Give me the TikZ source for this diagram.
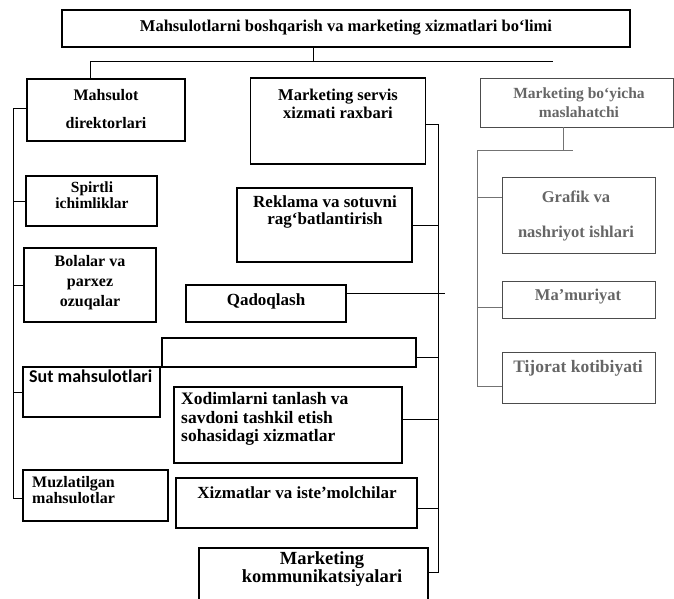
\documentclass[tikz,border=0pt]{standalone}
\usepackage{fontspec}
\setmainfont{Liberation Serif}
\newfontfamily\sutfont{Carlito}
\newcommand{\fsz}[2]{\fontsize{#1}{#2}\selectfont}
\begin{document}
\begin{tikzpicture}[x=1pt,y=-1pt,
  box/.style={draw=black, line width=1.1pt, inner sep=0pt},
  rbox/.style={draw=black!70, line width=0.9pt, inner sep=0pt},
  txt/.style={font=\bfseries, align=center, inner sep=0pt},
  ltxt/.style={txt, align=left, anchor=west},
  gtxt/.style={font=\bfseries, text=black!60, align=center, inner sep=0pt},
  link/.style={line width=0.8pt, draw=black},
  glink/.style={line width=0.8pt, draw=black!55}]
\clip (0,0) rectangle (674,598);
\fill[white] (0,0) rectangle (674,598);

% boxes
\node[box, minimum width=568pt, minimum height=37pt] (top) at (346,28.5) {};
\node[box, minimum width=158pt, minimum height=62pt] (mah) at (106,110) {};
\node[box, minimum width=175pt, minimum height=86pt] (ms) at (338,121) {};
\node[rbox, minimum width=193pt, minimum height=49pt] (mbq) at (576.5,102.5) {};
\node[box, minimum width=131pt, minimum height=50pt] (spi) at (91.5,201) {};
\node[box, minimum width=132pt, minimum height=74pt] (bol) at (90,285) {};
\node[box, minimum width=137pt, minimum height=50pt] (sut) at (91.5,392) {};
\node[box, minimum width=145pt, minimum height=51pt] (muz) at (95.5,495.5) {};
\node[box, minimum width=175pt, minimum height=74pt] (rek) at (324.5,225) {};
\node[box, minimum width=160pt, minimum height=37pt] (qad) at (266,303.5) {};
\node[box, minimum width=254pt, minimum height=29pt] (emp) at (289,352.5) {};
\node[box, minimum width=228pt, minimum height=76pt] (xod) at (288,425) {};
\node[box, minimum width=241pt, minimum height=50pt] (xiz) at (296.5,503) {};
\node[box, minimum width=229pt, minimum height=54pt] (kom) at (313.5,575) {};
\node[rbox, minimum width=153pt, minimum height=76pt] (gra) at (578.5,215) {};
\node[rbox, minimum width=153pt, minimum height=37pt] (mam) at (578.5,299.5) {};
\node[rbox, minimum width=153pt, minimum height=51pt] (tij) at (578.5,377.5) {};

% texts
\node[txt, font=\fsz{16.5}{20}\bfseries] (ttop) at (346,28) {Mahsulotlarni boshqarish va marketing xizmatlari bo‘limi};
\node[txt, font=\fsz{16}{17}\bfseries] (tmah) at (106,109) {Mahsulot\\[11pt]direktorlari};
\node[txt, font=\fsz{16.5}{18}\bfseries] (tms) at (338,104) {Marketing servis\\xizmati raxbari};
\node[gtxt, font=\fsz{15.5}{19}\bfseries] (tmbq) at (579,102.5) {Marketing bo‘yicha\\maslahatchi};
\node[txt, font=\fsz{15.5}{16.5}\bfseries] (tspi) at (92,195) {Spirtli\\ichimliklar};
\node[txt, font=\fsz{16}{20}\bfseries] (tbol) at (90,283) {Bolalar va\\parxez\\ozuqalar};
\node[txt, font=\fsz{17}{16.5}\bfseries] (trek) at (325,212) {Reklama va sotuvni\\rag‘batlantirish};
\node[txt, font=\fsz{17}{20}\bfseries] (tqad) at (266,301) {Qadoqlash};
\node[font=\sutfont\fsz{18}{20}\bfseries, inner sep=0pt, anchor=west] (tsut) at (29,376) {Sut mahsulotlari};
\node[ltxt, font=\fsz{16}{15.5}\bfseries] (tmuz) at (32,490) {Muzlatilgan\\mahsulotlar};
\node[ltxt, font=\fsz{17.5}{18.5}\bfseries] (txod) at (181,419) {Xodimlarni tanlash va\\savdoni tashkil etish\\sohasidagi xizmatlar};
\node[txt, font=\fsz{17}{20}\bfseries] (txiz) at (297,493) {Xizmatlar va iste’molchilar};
\node[txt, font=\fsz{18.5}{18}\bfseries] (tkom) at (322,569) {Marketing\\kommunikatsiyalari};
\node[gtxt, font=\fsz{16.5}{18}\bfseries] (tgra) at (576,215.5) {Grafik va\\[17pt]nashriyot ishlari};
\node[gtxt, font=\fsz{16.5}{18}\bfseries] (tmam) at (578,297) {Ma’muriyat};
\node[gtxt, font=\fsz{17.5}{18}\bfseries] (ttij) at (578,368) {Tijorat kotibiyati};

% top connectors
\coordinate (hm) at (313,61);
\coordinate (hl) at (90,61);
\coordinate (hr) at (553,61);
\draw[link] (hm |- top.south) -- (hm);
\draw[link] (hl) -- (hr);
\draw[link] (hl) -- (hl |- mah.north);

% left bus
\coordinate (L0) at (13,108);
\coordinate (L1) at (13,498);
\draw[link] (L0 -| mah.west) -- (L0) -- (L1) -- (L1 -| muz.west);
\draw[link] (spi.west) -- (spi.west -| L0);
\draw[link] (bol.west) -- (bol.west -| L0);
\draw[link] (sut.west) -- (sut.west -| L0);

% middle bus
\coordinate (M0) at (438,124);
\coordinate (M1) at (438,572);
\coordinate (mq) at (445,293);
\coordinate (me) at (438,357);
\coordinate (mx) at (438,419);
\coordinate (mz) at (438,508);
\draw[link] (M0 -| ms.east) -- (M0) -- (M1) -- (M1 -| kom.east);
\draw[link] (rek.east) -- (rek.east -| M0);
\draw[link] (mq -| qad.east) -- (mq);
\draw[link] (me -| emp.east) -- (me);
\draw[link] (mx -| xod.east) -- (mx);
\draw[link] (mz -| xiz.east) -- (mz);

% right bus
\coordinate (R0) at (563,150);
\coordinate (Ra) at (477,150);
\coordinate (Rb) at (573,150);
\coordinate (R1) at (477,386);
\draw[glink] (R0 |- mbq.south) -- (R0);
\draw[glink] (Ra) -- (Rb);
\draw[glink] (Ra) -- (R1) -- (R1 -| tij.west);
\draw[glink] (gra.west |- 0,197) -- (477,197);
\draw[glink] (mam.west |- 0,307) -- (477,307);
\end{tikzpicture}
\end{document}
